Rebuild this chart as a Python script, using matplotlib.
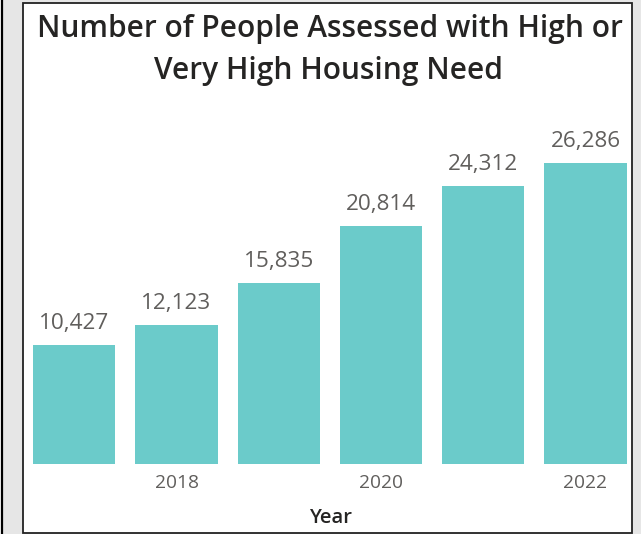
import matplotlib
matplotlib.use("Agg")
import matplotlib.pyplot as plt
from matplotlib.patches import Rectangle
from matplotlib.lines import Line2D

years = [2017, 2018, 2019, 2020, 2021, 2022]
values = [10427, 12123, 15835, 20814, 24312, 26286]
tick_years = [2018, 2020, 2022]

W, H = 641, 534
fig = plt.figure(figsize=(W / 100, H / 100), dpi=100)
fig.patch.set_facecolor("#E6E6E6")

def px(x, y):
    return x / W, 1 - y / H

# outer decorations
fig.add_artist(Rectangle((0, 0), 1.0 / W, 1, transform=fig.transFigure, facecolor="white", edgecolor="none"))
fig.add_artist(Line2D([1.8 / W, 1.8 / W], [0, 1], transform=fig.transFigure, color="black", lw=1.6))
x0, y0 = px(22.7, 532.5)
x1, y1 = px(632.3, 2.7)
fig.add_artist(Rectangle((x0, y0), x1 - x0, y1 - y0, transform=fig.transFigure,
                         facecolor="white", edgecolor="#222222", lw=1.3, zorder=0))

font = "Open Sans"
title_color = "#252423"
label_color = "#605E5C"

ax_left, ax_right = 23.5, 631.5
ax_bottom, ax_top = 464, 110
ax = fig.add_axes([ax_left / W, 1 - ax_bottom / H, (ax_right - ax_left) / W, (ax_bottom - ax_top) / H])
ax.set_facecolor("none")

idx = list(range(len(years)))
ax.bar(idx, values, width=0.804, color="#6BCBCA", edgecolor="none")

pitch = 102.24
c0 = 74.3
ax.set_xlim((ax_left - c0) / pitch, (ax_right - c0) / pitch)
top_val = values[-1] * (ax_bottom - ax_top) / (464 - 163.3)
ax.set_ylim(0, top_val)

for i, v in zip(idx, values):
    ax.annotate(f"{v:,}", (i, v), xytext=(0, 11.5), textcoords="offset points",
                ha="center", va="baseline", fontsize=16.2, color=label_color, family=font)

ax.set_xticks([years.index(y) for y in tick_years])
ax.set_xticklabels([str(y) for y in tick_years], family=font, fontsize=13.8, color=label_color)
ax.tick_params(axis="x", length=0, pad=7.5)
ax.set_yticks([])
for s in ax.spines.values():
    s.set_visible(False)

fig.text(*px(330.5, 523), "Year", ha="center", va="baseline", fontsize=14.5,
         color=title_color, family=font, fontweight="semibold")
fig.text(*px(329.5, 37), "Number of People Assessed with High or", ha="center", va="baseline",
         fontsize=21.5, color=title_color, family=font, fontweight="semibold")
fig.text(*px(329, 79.5), "Very High Housing Need", ha="center", va="baseline",
         fontsize=21.5, color=title_color, family=font, fontweight="semibold")

fig.savefig("out.png", dpi=100, facecolor=fig.get_facecolor())
